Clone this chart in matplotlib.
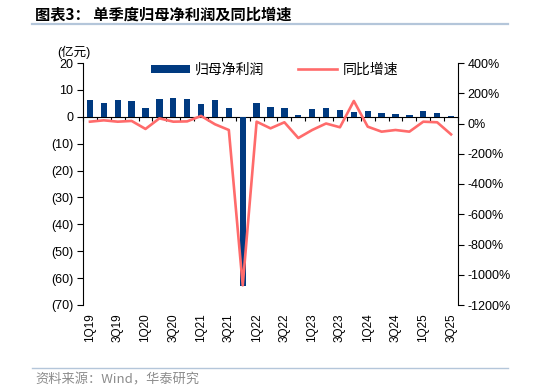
import numpy as np
import matplotlib.pyplot as plt
from matplotlib.lines import Line2D
from matplotlib.ticker import FuncFormatter

plt.rcParams["font.family"] = ["Liberation Sans", "Noto Sans CJK SC"]

quarters = [
    "1Q19", "2Q19", "3Q19", "4Q19",
    "1Q20", "2Q20", "3Q20", "4Q20",
    "1Q21", "2Q21", "3Q21", "4Q21",
    "1Q22", "2Q22", "3Q22", "4Q22",
    "1Q23", "2Q23", "3Q23", "4Q23",
    "1Q24", "2Q24", "3Q24", "4Q24",
    "1Q25", "2Q25", "3Q25",
]
# 归母净利润, 亿元
net_profit = [
    6.1, 5.1, 6.3, 6.0,
    3.4, 6.6, 7.1, 6.6,
    4.7, 6.1, 3.3, -63.0,
    5.0, 3.7, 3.3, 0.7,
    2.8, 3.3, 2.4, 1.7,
    2.1, 1.4, 1.2, 0.7,
    2.2, 1.5, 0.3,
]
# 同比增速, %
yoy_growth = [
    12, 21, 12, 17,
    -36, 34, 12, 14,
    50, -5, -43, -1070,
    12, -32, 8, -96,
    -43, 0, -25, 149,
    -21, -54, -43, -54,
    12, 8, -72,
]

NAVY = "#003A80"
RED = "#FF6B6B"
W, H = 534, 392

fig = plt.figure(figsize=(W / 100, H / 100), dpi=100)
ax = fig.add_axes([83 / W, 1 - 305 / H, (458 - 83) / W, (305 - 63) / H])

x = np.arange(len(quarters))
bars = ax.bar(x, net_profit, width=0.45, color=NAVY, label="归母净利润", zorder=2)
ax.set_xlim(-0.5, len(quarters) - 0.5)
ax.set_ylim(-70, 20)
ax.set_yticks(np.arange(-70, 21, 10))
ax.yaxis.set_major_formatter(
    FuncFormatter(lambda v, _: f"({abs(v):.0f})" if v < 0 else f"{v:.0f}")
)
ax.tick_params(axis="y", direction="out", length=4, width=0.8, labelsize=9, pad=3)
ax.set_xticks(x[::2])
ax.set_xticklabels(quarters[::2], rotation=90, fontsize=8.5)
ax.tick_params(axis="x", length=0, pad=6)
for s in ["top", "right", "bottom"]:
    ax.spines[s].set_visible(False)
ax.spines["left"].set_linewidth(0.8)

# category axis drawn at y = 0
zero_axis = ax.secondary_xaxis(70 / 90)
zero_axis.set_xticks(np.arange(-0.5, len(quarters)))
zero_axis.tick_params(direction="in", length=3, width=0.8, labeltop=False, labelbottom=False)
zero_axis.spines["top"].set_linewidth(0.8)

ax2 = ax.twinx()
line, = ax2.plot(x, yoy_growth, color=RED, lw=1.9, label="同比增速", zorder=3)
ax2.set_ylim(-1200, 400)
ax2.set_yticks(np.arange(-1200, 401, 200))
ax2.yaxis.set_major_formatter(FuncFormatter(lambda v, _: f"{v:.0f}%"))
ax2.tick_params(axis="y", direction="out", length=4, width=0.8, labelsize=9, pad=3)
for s in ["top", "left", "bottom"]:
    ax2.spines[s].set_visible(False)
ax2.spines["right"].set_linewidth(0.8)

ax2.legend(
    [bars, line], ["归母净利润", "同比增速"],
    loc="center", bbox_to_anchor=(0.51, 0.972), ncol=2, frameon=False,
    fontsize=10, handlelength=2.8, handleheight=0.55, columnspacing=2.4,
    handletextpad=0.4,
)

fig.text(57 / W, 1 - 52 / H, "(亿元)", fontsize=9, va="center", ha="left")

fig.text(35 / W, 1 - 14 / H, "图表3： 单季度归母净利润及同比增速",
         fontsize=11, fontweight="bold", va="center", ha="left",
         family=["Noto Sans CJK SC", "Liberation Sans"])
fig.add_artist(Line2D([32 / W, 508 / W], [1 - 24 / H, 1 - 24 / H],
                      color="#B4C6DA", lw=1.6, transform=fig.transFigure))

fig.add_artist(Line2D([32 / W, 508 / W], [1 - 368 / H, 1 - 368 / H],
                      color="#B4C6DA", lw=1.0, transform=fig.transFigure))
fig.text(35 / W, 1 - 380 / H, "资料来源：Wind，华泰研究", fontsize=9.5,
         color="#8C8C8C", va="center", ha="left",
         family=["Noto Sans CJK SC", "Liberation Sans"])

fig.savefig("out.png", dpi=100)
